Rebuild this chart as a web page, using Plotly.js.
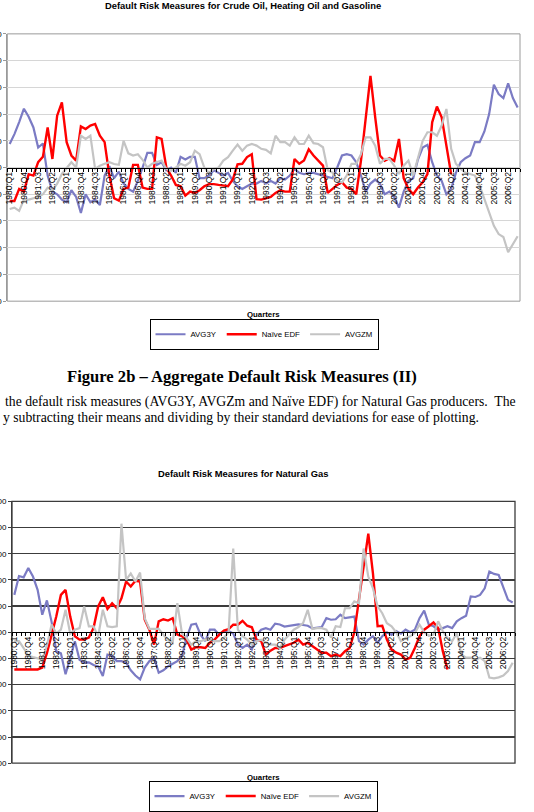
<!DOCTYPE html>
<html>
<head>
<meta charset="utf-8">
<script src="https://cdn.plot.ly/plotly-3.0.1.min.js"></script>
<style>
html,body{margin:0;padding:0;background:#fff;}
#chart{width:534px;height:812px;}
</style>
</head>
<body>
<div id="chart"></div>
<script>
// ---- categories (1980:Q1 .. 2006:Q4) ----
const years = [1980,1981,1982,1983,1984,1985,1986,1987,1988,1989,1990,1991,1992,1993,1994,1995,1996,1997,1998,1999,2000,2001,2002,2003,2004,2005,2006];
const quarterNames = ["Q1","Q2","Q3","Q4"];
const categories = [];
years.forEach(y => quarterNames.forEach(q => categories.push(y + ":" + q)));
const labelStep = 3;

// ---- Chart 1: Crude Oil, Heating Oil and Gasoline ----
const avg3yOil = [0.88,1.25,1.7,2.2,1.9,1.5,0.75,0.9,-0.3,-0.9,
 -1.0,-1.2,-1.3,-0.85,-1.1,-1.7,-1.0,-1.3,-1.2,-1.4,
 -0.3,0.05,-0.4,-0.15,-0.6,-0.8,-0.9,-0.5,0.0,0.55,
 0.55,0.1,0.2,-0.1,0.0,-0.2,0.4,0.3,0.4,0.4,
 -0.4,-0.4,-0.3,-0.1,-0.2,-0.3,-0.2,-0.5,-0.7,-0.8,
 -0.7,-0.6,-0.6,-0.5,-0.6,-0.5,-0.6,-0.4,-0.45,-0.3,
 -0.05,-0.2,-0.25,-0.2,-0.2,-0.25,-0.3,-0.35,-0.4,0.0,
 0.45,0.5,0.45,0.2,-0.3,-0.9,-0.6,-0.45,-0.6,-1.0,
 -0.9,-1.1,-1.5,-0.9,-0.5,-0.4,0.3,0.75,0.85,0.2,
 -0.3,-0.5,-1.0,-0.8,-0.2,0.2,0.35,0.45,0.95,0.95,
 1.35,2.0,3.1,2.75,2.6,3.15,2.6,2.25];
const edfOil = [-1.25,-1.25,-0.8,-0.9,-0.25,-0.3,0.2,0.4,1.5,0.32,
 1.94,2.44,0.95,0.45,0.26,1.54,1.44,1.57,1.63,1.19,
 0.95,-0.3,-1.15,-1.24,-0.8,-0.75,0.1,0.1,-0.75,-0.8,
 -0.8,1.13,1.07,0.0,-0.3,-0.65,-0.7,-1.05,-0.9,-0.95,
 -0.85,-0.7,-0.62,-0.62,-0.65,-0.68,-0.7,-0.45,0.12,0.14,
 0.39,0.5,-1.18,-1.2,-1.15,-1.1,-0.95,-0.85,-0.9,-0.9,
 0.32,0.14,0.26,0.68,0.45,0.25,0.07,-0.95,-0.8,-0.65,
 -0.55,-0.75,-0.8,-1.0,0.26,1.88,3.43,1.88,0.45,0.25,
 0.35,0.25,1.07,-0.4,-0.8,-1.0,-0.75,-0.55,-0.25,1.69,
 2.28,1.88,0.82,-0.25];
const avgzmOil = [-1.55,-1.5,-1.62,-1.2,-1.2,-1.15,-1.1,-1.0,-0.75,-0.85,
 -0.6,-0.24,0.0,0.2,0.0,1.19,1.07,1.19,-0.05,0.07,
 0.14,0.2,0.13,0.1,1.0,0.53,0.45,0.5,0.29,0.0,
 0.14,0.2,0.26,-0.05,-0.12,0.0,0.14,0.07,0.2,0.63,
 0.5,0.0,-0.2,-0.05,0.0,0.26,0.39,0.63,0.86,0.63,
 0.82,0.88,0.82,0.7,0.66,0.53,1.19,0.95,0.95,0.82,
 1.13,0.88,0.88,1.19,0.91,0.88,0.76,-0.1,-0.19,-0.5,
 -0.56,-0.3,0.14,0.14,0.5,1.13,1.13,0.82,0.14,0.32,
 0.32,0.07,-0.24,0.07,0.26,-0.3,0.39,1.0,1.32,1.32,
 1.19,1.57,2.19,0.7,0.14,-0.05,-0.19,-0.25,-0.3,-0.68,
 -1.18,-1.62,-2.18,-2.49,-2.6,-3.17,-2.86,-2.57];

// ---- Chart 2: Natural Gas ----
const avg3yGas = [1.43,2.15,2.1,2.46,2.13,1.62,0.67,1.22,0.4,-0.72,
 -0.8,-1.6,-0.97,-0.34,-1.05,-1.16,-1.15,-1.25,-1.3,-1.67,
 -0.85,-0.9,-1.1,-1.1,-1.16,-1.45,-1.65,-1.8,-1.35,-1.1,
 -0.97,-1.54,-1.45,-1.3,-1.2,-1.1,-0.9,-0.2,0.29,0.33,
 -0.1,-0.34,0.1,0.1,-0.1,0.05,0.05,-0.05,-0.47,-0.6,
 -0.47,-0.65,-0.1,0.1,0.16,0.1,0.33,0.3,0.22,0.25,
 0.29,0.3,0.28,0.25,0.15,0.17,0.2,0.54,0.48,0.5,
 0.67,0.54,0.57,0.6,-0.34,-0.47,-0.28,-0.15,-0.4,-0.15,
 0.0,-0.1,0.05,-0.05,0.1,0.0,0.1,0.54,0.83,0.29,
 0.23,0.1,0.16,0.23,0.16,0.42,0.54,0.63,1.37,1.35,
 1.43,1.68,2.32,2.23,2.19,1.68,1.24,1.14];
const edfGas = [-1.42,-1.42,-1.42,-1.42,-1.42,-1.42,-1.35,-0.8,-0.1,0.6,
 1.43,1.62,0.6,-0.15,-0.28,-0.28,-0.2,0.16,0.99,1.34,
 0.89,1.11,0.92,1.3,1.94,1.75,1.97,1.94,0.48,0.1,
 -0.47,0.42,0.5,0.45,0.54,-0.09,-0.15,-0.28,-0.66,-0.57,
 -0.57,-0.6,-0.4,-0.28,-0.09,0.07,0.12,0.29,0.29,0.44,
 0.25,0.19,-0.28,-0.34,-0.85,-0.7,-0.6,-0.6,-0.53,-0.47,
 -0.4,-0.28,-0.47,-0.4,-0.53,-0.66,-0.78,-0.78,-0.91,-0.85,
 -0.91,-0.72,-0.6,0.0,1.24,2.5,3.77,2.25,0.23,0.25,
 -0.28,-0.66,-0.78,-0.85,-1.04,-0.97,-0.6,-0.15,0.1,0.23,
 0.38,0.16,-0.72,-1.42];
const avgzmGas = [-0.34,-0.34,-0.6,-0.9,-0.95,-1.0,-1.04,-0.5,0.3,-0.05,
 0.1,0.86,-0.05,0.1,0.16,0.99,0.23,0.23,-0.15,0.86,
 0.23,0.2,0.23,4.15,2.0,2.25,1.94,2.28,0.54,0.13,
 0.13,0.13,-0.09,-0.28,-0.4,1.11,-0.05,-0.22,-0.47,-0.34,
 -0.34,-0.28,-0.28,-0.34,-0.34,-0.22,0.0,3.2,0.1,-0.15,
 -0.28,-0.47,-0.34,-0.28,-0.4,-0.47,-0.47,-0.6,-0.28,-0.09,
 0.1,0.2,0.35,0.86,0.13,0.16,0.16,0.1,-0.2,0.23,
 0.2,0.92,0.92,1.18,1.11,3.2,2.13,1.68,0.99,0.73,
 0.35,0.23,0.0,-0.34,-0.22,-0.15,-0.03,0.29,0.0,-0.13,
 -0.09,0.42,0.04,-0.22,-0.34,-0.03,-0.85,-0.97,-0.97,-1.04,
 -0.97,-1.1,-1.73,-1.76,-1.72,-1.65,-1.48,-1.16];

const seriesNames = ["AVG3Y", "Naïve EDF", "AVGZM"];
const seriesColors = ["#7B7BC4", "#FF0000", "#C4C4C4"];

// ---- text ----
const title1 = "Default Risk Measures for Crude Oil, Heating Oil and Gasoline";
const title2 = "Default Risk Measures for Natural Gas";
const xTitle = "Quarters";
const caption = "Figure 2b – Aggregate Default Risk Measures (II)";
const paraLine1 = "the default risk measures (AVG3Y, AVGZm and Naïve EDF) for Natural Gas producers.  The";
const paraLine2 = "y subtracting their means and dividing by their standard deviations for ease of plotting.";

// ---- build ----
const W = 534, H = 812;
const xIdx = categories.map((c, i) => i);
const tickVals = xIdx.filter(i => i % labelStep === 0);
const tickText = tickVals.map(i => categories[i]);

function px2x(p){ return p / W; }
function py2y(p){ return 1 - p / H; }

const dom1x = [px2x(7.3), px2x(520)];
const dom1y = [py2y(302.3), py2y(34)];
const dom2x = [px2x(12), px2x(515)];
const dom2y = [py2y(766), py2y(503.3)];

function mkTrace(y, k, xa, ya, leg){
  return {
    x: xIdx.slice(0, y.length), y: y, type: "scatter", mode: "lines",
    name: seriesNames[k], xaxis: xa, yaxis: ya, legend: leg,
    line: {color: seriesColors[k], width: k === 1 ? 2.4 : 2.2},
    hoverinfo: "skip"
  };
}

const data = [
  mkTrace(avg3yOil, 0, "x", "y", "legend"),
  mkTrace(edfOil, 1, "x", "y", "legend"),
  mkTrace(avgzmOil, 2, "x", "y", "legend"),
  mkTrace(avg3yGas, 0, "x2", "y2", "legend2"),
  mkTrace(edfGas, 1, "x2", "y2", "legend2"),
  mkTrace(avgzmGas, 2, "x2", "y2", "legend2")
];

function xAxis(dom, ydom){
  return {
    domain: dom, anchor: "free", position: (ydom[0] + ydom[1]) / 2,
    range: [-0.5, 107.5], tickmode: "array", tickvals: tickVals, ticktext: tickText,
    tickangle: -90, ticks: "", showline: true, linecolor: "#000", linewidth: 1,
    showgrid: false, zeroline: false, fixedrange: true,
    tickfont: {family: "Liberation Sans, Arial, sans-serif", size: 8.5, color: "#000"},
    minor: {tick0: -0.5, dtick: 1, ticks: "outside", ticklen: 3, tickcolor: "#000", tickwidth: 1, showgrid: false}
  };
}
function yAxis(dom, xa, grid, gw, lc){
  return {
    domain: dom, anchor: xa, range: [-5, 5], dtick: 1, tick0: 0, tickformat: ".2f",
    showgrid: true, gridcolor: grid, gridwidth: gw, zeroline: false,
    showline: true, linecolor: lc, linewidth: 1, ticks: "outside", ticklen: 3, tickcolor: lc,
    tickfont: {family: "Liberation Sans, Arial, sans-serif", size: 8, color: "#000"},
    fixedrange: true
  };
}

const legendBase = {
  orientation: "h", xanchor: "center", yanchor: "middle",
  bgcolor: "#fff", bordercolor: "#000", borderwidth: 1,
  font: {family: "Liberation Sans, Arial, sans-serif", size: 7.8, color: "#000"},
  itemwidth: 30, tracegroupgap: 0, itemclick: false, itemdoubleclick: false
};

const annFont = {family: "Liberation Sans, Arial, sans-serif", color: "#000"};
const layout = {
  width: W, height: H, margin: {l: 0, r: 0, t: 0, b: 0},
  paper_bgcolor: "#fff", plot_bgcolor: "rgba(0,0,0,0)",
  showlegend: true,
  xaxis: xAxis(dom1x, dom1y),
  yaxis: yAxis(dom1y, "x", "#D6D6D6", 1, "#9A9A9A"),
  xaxis2: xAxis(dom2x, dom2y),
  yaxis2: yAxis(dom2y, "x2", "#3C3C3C", 1.3, "#3C3C3C"),
  legend: Object.assign({}, legendBase, {x: px2x(264), y: py2y(335.5)}),
  legend2: Object.assign({}, legendBase, {x: px2x(263), y: py2y(799)}),
  shapes: [
    {type: "rect", xref: "x domain", yref: "y domain", x0: 0, x1: 1, y0: 0, y1: 1, line: {color: "#9A9A9A", width: 1}, layer: "below"},
    {type: "rect", xref: "x2 domain", yref: "y2 domain", x0: 0, x1: 1, y0: 0, y1: 1, line: {color: "#3C3C3C", width: 1.3}, layer: "below"}
  ],
  annotations: [
    {text: "<b>" + title1 + "</b>", xref: "paper", yref: "paper", x: px2x(242.5), y: py2y(6), xanchor: "center", yanchor: "middle", showarrow: false, font: Object.assign({size: 9.4}, annFont)},
    {text: "<b>" + xTitle + "</b>", xref: "paper", yref: "paper", x: px2x(263.5), y: py2y(315.7), xanchor: "center", yanchor: "middle", showarrow: false, font: Object.assign({size: 7.8}, annFont)},
    {text: "<b>" + caption + "</b>", xref: "paper", yref: "paper", x: px2x(242), y: py2y(378), xanchor: "center", yanchor: "middle", showarrow: false, font: {family: "Liberation Serif, Times New Roman, serif", size: 16.6, color: "#000"}},
    {text: paraLine1, xref: "paper", yref: "paper", x: px2x(3), y: py2y(403.5), xanchor: "left", yanchor: "middle", showarrow: false, font: {family: "Liberation Serif, Times New Roman, serif", size: 13.7, color: "#000"}},
    {text: paraLine2, xref: "paper", yref: "paper", x: px2x(1), y: py2y(419.5), xanchor: "left", yanchor: "middle", showarrow: false, font: {family: "Liberation Serif, Times New Roman, serif", size: 13.7, color: "#000"}},
    {text: "<b>" + title2 + "</b>", xref: "paper", yref: "paper", x: px2x(242.5), y: py2y(475), xanchor: "center", yanchor: "middle", showarrow: false, font: Object.assign({size: 9.4}, annFont)},
    {text: "<b>" + xTitle + "</b>", xref: "paper", yref: "paper", x: px2x(263), y: py2y(780), xanchor: "center", yanchor: "middle", showarrow: false, font: Object.assign({size: 7.8}, annFont)}
  ]
};

Plotly.newPlot("chart", data, layout, {staticPlot: true, displayModeBar: false});
</script>
</body>
</html>
